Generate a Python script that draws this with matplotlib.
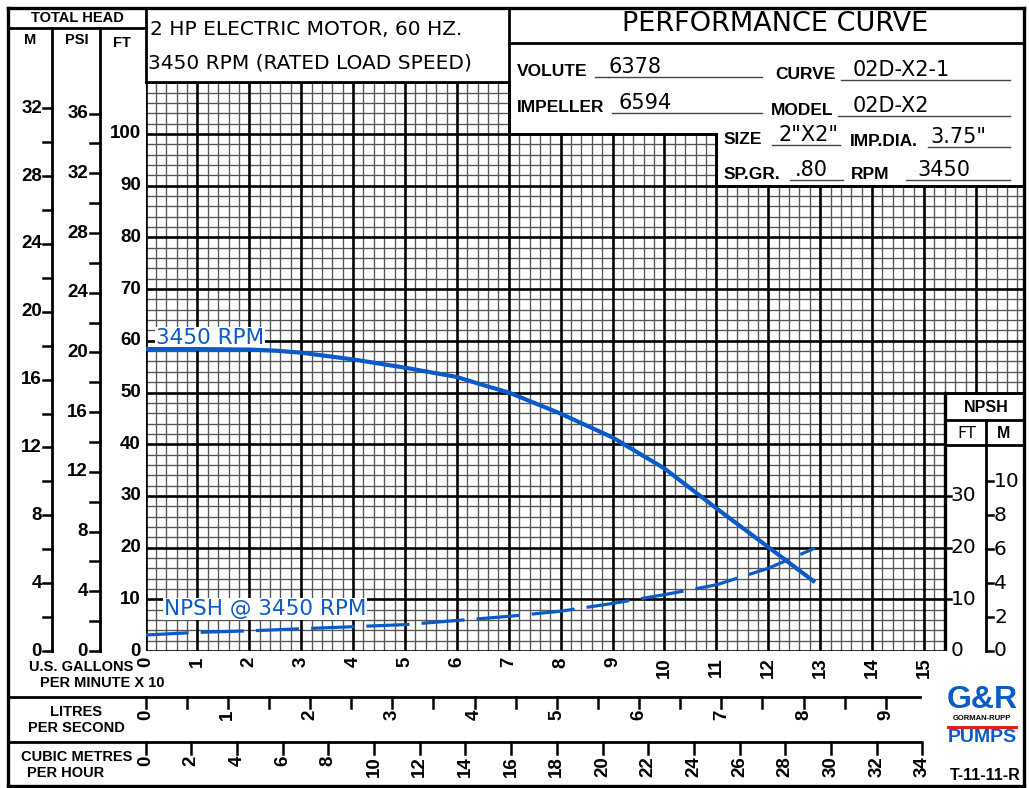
import matplotlib
matplotlib.use("Agg")
import matplotlib.pyplot as plt
import matplotlib.transforms as mtransforms
import numpy as np

# ---- data (flow in US GPM x 10, head / NPSH in feet) ----
gpm_head = [0, 1, 2, 2.5, 3, 4, 5, 6, 6.45, 7, 8, 9, 10, 11, 12, 12.9]
head_ft = [58.4, 58.4, 58.3, 58.1, 57.7, 56.4, 54.8, 53.0, 51.6, 50.0, 45.9, 41.3, 35.3, 27.6, 20.1, 13.3]

gpm_npsh = [0, 1, 2, 3, 4, 5, 6, 7, 8, 9, 10, 11, 12, 12.9]
npsh_ft = [3.1, 3.6, 3.9, 4.3, 4.7, 5.1, 5.9, 6.7, 7.7, 9.2, 10.9, 12.8, 16.0, 19.9]

gpm_labels = list(range(0, 16))
m_ticks = list(range(0, 33, 2))          # total head, metres
psi_ticks = list(range(0, 37, 2))        # total head, psi
ft_labels = list(range(0, 101, 10))
npsh_ft_labels = [0, 10, 20, 30]
npsh_m_ticks = [0, 2, 4, 6, 8, 10]
lps_ticks = [i / 2 for i in range(0, 19)]
m3h_ticks = list(range(0, 35, 2))

SP_GR = 0.80
FT_PER_M = 3.28084
FT_PER_PSI = 2.31 / SP_GR
GPM10_PER_LPS = 15.850323 / 10
GPM10_PER_M3H = 4.402868 / 10

info = [
    ("VOLUTE", "6378"), ("CURVE", "02D-X2-1"),
    ("IMPELLER", "6594"), ("MODEL", "02D-X2"),
    ("SIZE", '2"X2"'), ("IMP.DIA.", '3.75"'),
    ("SP.GR.", ".80"), ("RPM", "3450"),
]

BLUE = "#0a5ac8"
W, H = 1029, 788
X0, SX = 145.5, 51.9     # pixel of flow 0, pixels per unit
Y0, SY = 651.0, 5.17     # pixel of head 0, pixels per foot
XMAX, YMAX = 16.95, 110

def px(x):
    return X0 + x * SX

def py(ft):
    return Y0 - ft * SY

fig = plt.figure(figsize=(W / 100, H / 100), dpi=100)
fig.patch.set_facecolor("white")

ax = fig.add_axes([X0 / W, (H - Y0) / H, XMAX * SX / W, YMAX * SY / H], zorder=1)
ax.set_xlim(0, XMAX)
ax.set_ylim(0, YMAX)
ax.axis("off")

pg = fig.add_axes([0, 0, 1, 1], zorder=3)
pg.set_xlim(0, W)
pg.set_ylim(H, 0)
pg.axis("off")

BOLD = dict(family="Liberation Sans", fontweight="bold", color="black")
THIN = dict(family="DejaVu Sans", color="black")

# ---- grid ----
def col_span(x):
    if x > 15.41:
        return 50, 90
    if x <= 7.001:
        return 0, 110
    if x <= 11.001:
        return 0, 100
    return 0, 90

def row_span(y):
    if y > 100.01:
        return 0, 7
    if y > 90.01:
        return 0, 11
    if y >= 49.99:
        return 0, XMAX
    return 0, 15.4

xs = np.round(np.arange(0, 16.9, 0.2), 2)
ys = np.arange(0, 110.1, 2)
for major in (False, True):
    for x in xs:
        if (abs(x - round(x)) < 1e-6) != major:
            continue
        b, t = col_span(x)
        ax.plot([x, x], [b, t], color="black" if major else "#555555",
                lw=1.9 if major else 0.95, zorder=2 if major else 1, solid_capstyle="projecting")
    for y in ys:
        if (y % 10 == 0) != major:
            continue
        l, r = row_span(y)
        ax.plot([l, r], [y, y], color="black" if major else "#555555",
                lw=1.9 if major else 0.95, zorder=2 if major else 1, solid_capstyle="projecting")
ax.plot([15.4, 15.4], [0, 50], color="black", lw=2.4, zorder=2)

# ---- curves ----
ax.plot(gpm_head, head_ft, color=BLUE, lw=3.0, zorder=5, solid_capstyle="butt")
ax.plot(gpm_npsh, npsh_ft, color=BLUE, lw=2.3, zorder=5, dashes=(13.5, 3.8), dash_capstyle="butt")
ax.text(0.2, 58.6, "3450 RPM", color=BLUE, fontsize=15.5, family="DejaVu Sans", va="bottom",
        ha="left", zorder=4, bbox=dict(facecolor="white", edgecolor="none", pad=0.5))
ax.text(0.35, 6.2, "NPSH @ 3450 RPM", color=BLUE, fontsize=15.5, family="DejaVu Sans", va="bottom",
        ha="left", zorder=4, bbox=dict(facecolor="white", edgecolor="none", pad=0.5))

# ---- frame lines (page pixels) ----
def seg(x1, y1, x2, y2, lw=2.0):
    pg.plot([x1, x2], [y1, y2], color="black", lw=lw, solid_capstyle="projecting")

seg(8, 8, 1024, 8, 2.4); seg(8, 786, 1024, 786, 2.4)
seg(8, 8, 8, 786, 2.4); seg(1024, 8, 1024, 786, 2.4)
seg(8, 28, px(0), 28)
seg(52, 28, 52, Y0)
seg(100, 28, 100, Y0)
seg(px(0), 8, px(0), py(110))
seg(px(0), py(110), px(7), py(110))
seg(px(7), 8, px(7), py(100))
seg(px(7), 43, 1024, 43)
seg(px(7), py(100), px(11), py(100))
seg(px(11), py(100), px(11), py(90))
seg(px(11), py(90), 1024, py(90))
seg(px(15.4), py(50), 1024, py(50))
seg(px(15.4), 420, 1024, 420)
seg(px(15.4), 445, 1024, 445)
seg(986, 420, 986, Y0)
seg(8, 697, 920, 697)
seg(8, 742, 920, 742)

# ---- header texts ----
pg.text(77, 18, "TOTAL HEAD", fontsize=10.5, ha="center", va="center", **BOLD)
pg.text(30, 40, "M", fontsize=10.5, ha="center", va="center", **BOLD)
pg.text(77, 40, "PSI", fontsize=10.5, ha="center", va="center", **BOLD)
pg.text(122, 43, "FT", fontsize=10.5, ha="center", va="center", **BOLD)
pg.text(150, 29, "2 HP ELECTRIC MOTOR, 60 HZ.", fontsize=14.5, ha="left", va="center", **THIN)
pg.text(148, 63, "3450 RPM (RATED LOAD SPEED)", fontsize=14.5, ha="left", va="center", **THIN)
pg.text(775, 24, "PERFORMANCE CURVE", fontsize=19.5, ha="center", va="center", **THIN)

# info fields: label, value, label x, baseline y, underline x0, x1, value x
pos = [
    (517, 76, 595, 762, 608), (775, 79, 841, 1010, 853),
    (517, 112, 612, 762, 618), (771, 115, 838, 1010, 853),
    (724, 144, 772, 840, 778), (850, 146, 928, 1010, 930),
    (724, 179, 790, 843, 795), (851, 179, 906, 1010, 917),
]
for (lab, val), (lx, ly, u0, u1, vx) in zip(info, pos):
    pg.text(lx, ly, lab, fontsize=12.5, ha="left", va="baseline", **BOLD)
    pg.plot([u0, u1], [ly + 1, ly + 1], color="#444444", lw=1.0)
    pg.text(vx, ly - 3, val, fontsize=15, ha="left", va="baseline", **THIN)

# ---- left head scales ----
yb = mtransforms.blended_transform_factory(pg.transData, ax.transData)
for m in m_ticks:
    pg.plot([43, 52], [py(m * FT_PER_M)] * 2, color="black", lw=1.8)
    if m % 4 == 0:
        ax.text(42, m * FT_PER_M, str(m), transform=yb, fontsize=13.5, ha="right", va="center", **BOLD)
for p in psi_ticks:
    pg.plot([90, 100], [py(p * FT_PER_PSI)] * 2, color="black", lw=1.8)
    if p % 4 == 0:
        ax.text(88, p * FT_PER_PSI, str(p), transform=yb, fontsize=13.5, ha="right", va="center", **BOLD)
for f in ft_labels:
    ax.text(141, f, str(f), transform=yb, fontsize=13.5, ha="right", va="center", **BOLD)

# ---- NPSH scales ----
pg.text(986, 407, "NPSH", fontsize=11.5, ha="center", va="center", **BOLD)
pg.text(967, 433, "FT", fontsize=11.5, ha="center", va="center", **THIN)
pg.text(1004, 433, "M", fontsize=11.5, ha="center", va="center", **BOLD)
for f in npsh_ft_labels:
    if f > 0:
        pg.plot([px(15.4), px(15.4) + 6], [py(f)] * 2, color="black", lw=1.8)
    ax.text(px(15.4) + 6, f, str(f), transform=yb, fontsize=14.5, ha="left", va="center", **THIN)
for m in npsh_m_ticks:
    pg.plot([986, 993], [py(m * FT_PER_M)] * 2, color="black", lw=1.8)
    ax.text(994, m * FT_PER_M, str(m), transform=yb, fontsize=14.5, ha="left", va="center", **THIN)

# ---- flow scales ----
xb = mtransforms.blended_transform_factory(ax.transData, pg.transData)
for g in gpm_labels:
    ax.text(g, 657, str(g), transform=xb, rotation=90, fontsize=13.5, ha="center", va="top", **BOLD)
for q in lps_ticks:
    x = q * GPM10_PER_LPS
    ax.plot([x, x], [697, 708], transform=xb, color="black", lw=1.8, clip_on=False)
    if q == int(q):
        ax.text(x, 710, str(int(q)), transform=xb, rotation=90, fontsize=13.5, ha="center", va="top", **BOLD)
for q in m3h_ticks:
    x = q * GPM10_PER_M3H
    ax.plot([x, x], [742, 754], transform=xb, color="black", lw=1.8, clip_on=False)
    ax.text(x, 756, str(q), transform=xb, rotation=90, fontsize=13.5, ha="center", va="top", **BOLD)

pg.text(133, 667, "U.S. GALLONS", fontsize=10.5, ha="right", va="center", **BOLD)
pg.text(40, 683, "PER MINUTE X 10", fontsize=10.5, ha="left", va="center", **BOLD)
pg.text(76, 712, "LITRES", fontsize=10.5, ha="center", va="center", **BOLD)
pg.text(76, 728, "PER SECOND", fontsize=10.5, ha="center", va="center", **BOLD)
pg.text(77, 757, "CUBIC METRES", fontsize=10.5, ha="center", va="center", **BOLD)
pg.text(66, 773, "PER HOUR", fontsize=10.5, ha="center", va="center", **BOLD)

# ---- logo and drawing number ----
pg.text(982, 700, "G&R", fontsize=23, ha="center", va="center", family="Liberation Sans",
        fontweight="heavy", color=BLUE)
pg.text(982, 719, "GORMAN-RUPP", fontsize=5.5, ha="center", va="center", **BOLD)
pg.plot([948, 1016], [727, 727], color="#e02020", lw=2.2)
pg.text(982, 738, "PUMPS", fontsize=14, ha="center", va="center", family="Liberation Sans",
        fontweight="bold", color=BLUE)
pg.text(1021, 775, "T-11-11-R", fontsize=11.5, ha="right", va="center", **BOLD)

fig.savefig("out.png", dpi=100, facecolor="white")
